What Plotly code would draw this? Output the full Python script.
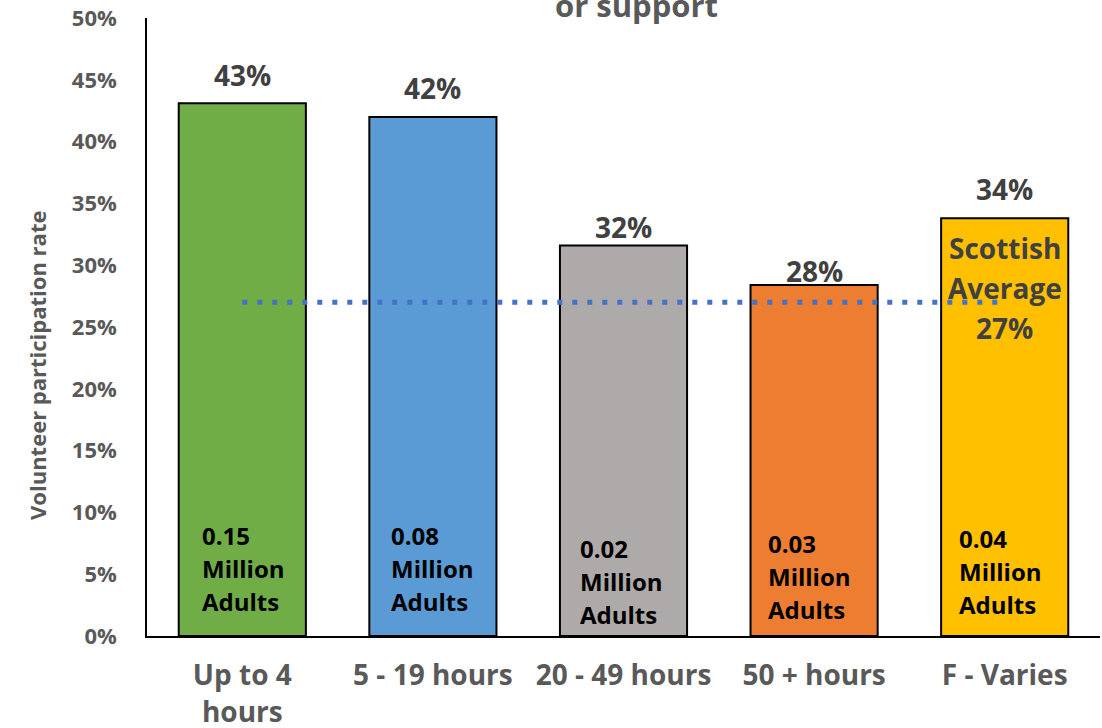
import plotly.graph_objects as go

# Hours volunteered per year vs participation rate
categories = ["Up to 4<br>hours", "5 - 19 hours", "20 - 49 hours", "50 + hours", "F - Varies"]
participation = [0.431, 0.420, 0.316, 0.284, 0.338]
adults_millions = [0.15, 0.08, 0.02, 0.03, 0.04]
scottish_average = 0.27
bar_colors = ["#70AD47", "#5B9BD5", "#AEAAAA", "#ED7D31", "#FFC000"]

FONT = "Open Sans"
GREY = "#595959"
DARK = "#404040"

fig = go.Figure()

fig.add_trace(go.Bar(
    x=categories,
    y=participation,
    marker=dict(color=bar_colors, line=dict(color="#000000", width=2)),
    width=0.667,
    hoverinfo="skip",
))

fig.add_trace(go.Scatter(
    x=[categories[0], categories[-1]],
    y=[scottish_average, scottish_average],
    mode="lines",
    line=dict(color="#4472C4", width=5, dash="5px,10px"),
    hoverinfo="skip",
))

annotations = []

# value labels above bars (pixel offset of label centre above bar top)
label_lift = [28, 29, 18, 14, 29]
for cat, val, lift in zip(categories, participation, label_lift):
    annotations.append(dict(
        x=cat, y=val, xref="x", yref="y",
        text=f"{val:.0%}", showarrow=False,
        yanchor="middle", yshift=lift,
        font=dict(family=FONT, size=28, color=DARK, weight="bold"),
    ))

# adults count inside each bar (left-aligned, three lines)
note_y = [0.055, 0.055, 0.0445, 0.048, 0.052]
note_x = [-42, -44, -46, -48, -48]
for cat, m, yy, xs in zip(categories, adults_millions, note_y, note_x):
    for line, dy in zip([f"{m:.2f}", "Million", "Adults"], [33, 0, -33]):
        annotations.append(dict(
            x=cat, y=yy, xref="x", yref="y",
            text=line, showarrow=False,
            xanchor="left", xshift=xs, yanchor="middle", yshift=dy,
            font=dict(family=FONT, size=24, color="#000000", weight="bold"),
        ))

# Scottish average label
for line, dy in zip(["Scottish", "Average", f"{scottish_average:.0%}"], [54, 14, -26]):
    annotations.append(dict(
        x=categories[-1], y=scottish_average, xref="x", yref="y",
        text=line, showarrow=False, yanchor="middle", yshift=dy,
        font=dict(family=FONT, size=28, color=DARK, weight="bold"),
    ))

# chart title (continuation line) and y-axis title
annotations.append(dict(
    x=0.514, y=1.021, xref="paper", yref="paper",
    text="or support", showarrow=False, yanchor="middle",
    font=dict(family=FONT, size=31, color=GREY, weight="bold"),
))
annotations.append(dict(
    x=-0.1154, y=0.437, xref="paper", yref="paper",
    text="Volunteer participation rate", showarrow=False, textangle=-90,
    xanchor="center", yanchor="middle",
    font=dict(family=FONT, size=22, color=GREY, weight="bold"),
))

fig.update_layout(
    width=1102, height=728,
    margin=dict(l=147, r=2, t=18, b=92),
    paper_bgcolor="white", plot_bgcolor="white",
    showlegend=False,
    annotations=annotations,
    xaxis=dict(
        showgrid=False, showline=True, linecolor="#000000", linewidth=1.5,
        ticks="", ticklabelstandoff=14, automargin=False,
        tickfont=dict(family=FONT, size=28, color=GREY, weight="bold"),
        range=[-0.5, 4.5], fixedrange=True,
    ),
    yaxis=dict(
        range=[0, 0.5], dtick=0.05, tickformat=".0%", automargin=False,
        showgrid=False, zeroline=False, showline=True, linecolor="#000000", linewidth=1.5,
        ticks="", ticklabelstandoff=24,
        tickfont=dict(family=FONT, size=22, color=GREY, weight="bold"),
    ),
)

fig.write_html("out.html")
